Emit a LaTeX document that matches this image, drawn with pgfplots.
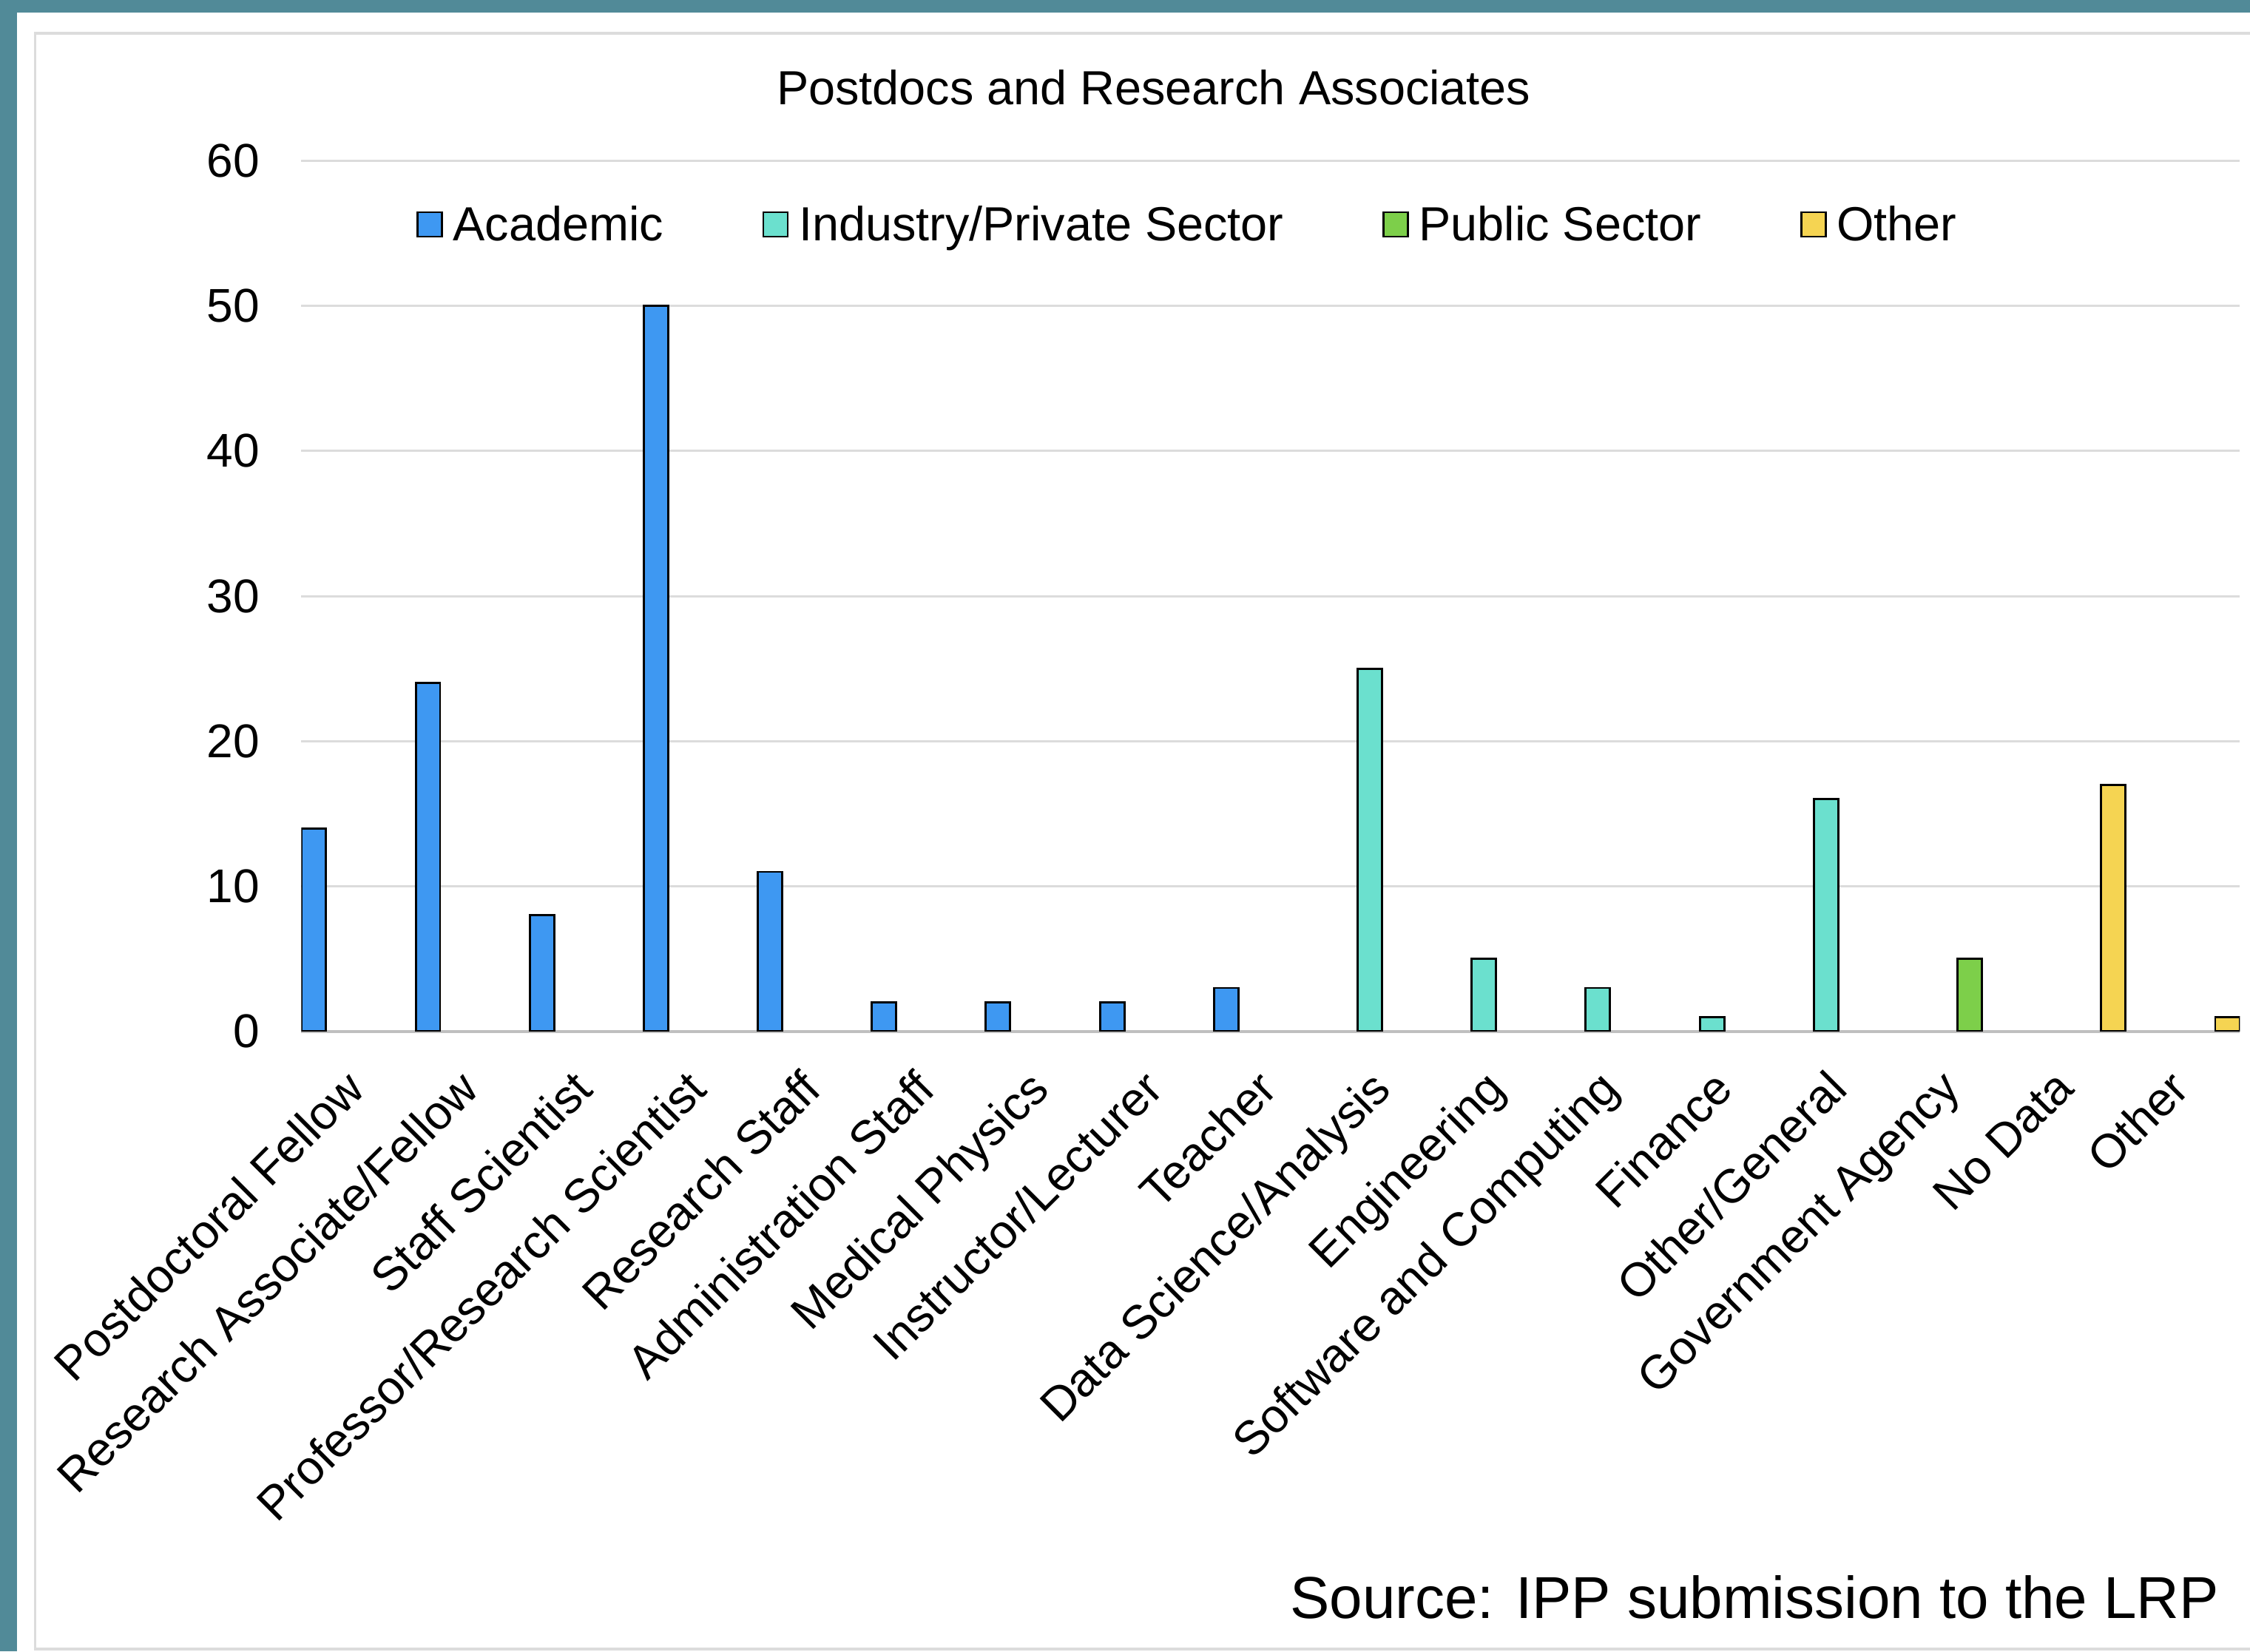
\documentclass[border=0pt]{standalone}
\usepackage{fontspec}
\setmainfont{Liberation Sans}
\usepackage{pgfplots}
\pgfplotsset{compat=1.18}
\definecolor{frameteal}{RGB}{81,138,152}
\definecolor{cAcad}{RGB}{62,152,242}
\definecolor{cInd}{RGB}{107,224,206}
\definecolor{cPub}{RGB}{125,207,74}
\definecolor{cOth}{RGB}{245,212,82}
\definecolor{gridgray}{RGB}{220,220,220}
\begin{document}
\begin{tikzpicture}
\useasboundingbox (0,0) rectangle (784pt,575.5pt);
\fill[frameteal] (0,0) rectangle (784pt,575.5pt);
\fill[white] (5.85pt,0) rectangle (790pt,571pt);
\draw[gridgray, line width=1pt] (12.25pt,0.75pt) rectangle (800pt,564pt);
\node[anchor=base, font=\fontsize{16.7}{19}\selectfont] at (402pt,539pt) {Postdocs and Research Associates};
\node[anchor=base west, font=\fontsize{20.6}{24}\selectfont] at (446pt,11.5pt) {Source: IPP submission to the LRP};
\begin{axis}[
  at={(105pt,216pt)}, anchor=south west,
  scale only axis, width=675.5pt, height=303.5pt,
  xmin=-0.5, xmax=16.5, ymin=0, ymax=60,
  ytick={0,10,...,60},
  xtick={0,...,16},
  xticklabels={Postdoctoral Fellow, Research Associate/Fellow, Staff Scientist, Professor/Research Scientist, Research Staff, Administration Staff, Medical Physics, Instructor/Lecturer, Teacher, Data Science/Analysis, Engineering, Software and Computing, Finance, Other/General, Government Agency, No Data, Other},
  xticklabel style={rotate=45, anchor=north east, font=\fontsize{16.5}{19}\selectfont, inner sep=1pt, xshift=-11.6pt, yshift=-3.8pt},
  yticklabel style={font=\fontsize{16.5}{19}\selectfont, anchor=east, xshift=-11pt},
  /pgf/number format/assume math mode=true,
  axis x line*=bottom, axis y line*=left,
  y axis line style={draw=none},
  x axis line style={draw=black!25, line width=1pt},
  tick style={draw=none}, major tick length=0pt,
  ymajorgrids, grid style={gridgray, line width=0.75pt},
  legend columns=4,
  legend style={draw=none, fill=none, at={(0.0592,0.9259)}, anchor=west, inner sep=0pt,
    font=\fontsize{16.7}{20}\selectfont,
    nodes={inner sep=1.5pt},
    /tikz/every even column/.append style={column sep=33pt}},
  legend image code/.code={\draw[#1, line width=0.6pt] (0pt,-4pt) rectangle (8.5pt,4.5pt); \path (10.5pt,0pt);},
]
\addplot[ybar, bar width=0.214, bar shift=-0.39, fill=cAcad, draw=black, line width=0.75pt] coordinates {(0,14) (1,24) (2,8) (3,50) (4,11) (5,2) (6,2) (7,2) (8,3)};
\addlegendentry{Academic}
\addplot[ybar, bar width=0.214, bar shift=-0.13, fill=cInd, draw=black, line width=0.75pt] coordinates {(9,25) (10,5) (11,3) (12,1) (13,16)};
\addlegendentry{Industry/Private Sector}
\addplot[ybar, bar width=0.214, bar shift=0.13, fill=cPub, draw=black, line width=0.75pt] coordinates {(14,5)};
\addlegendentry{Public Sector}
\addplot[ybar, bar width=0.214, bar shift=0.39, fill=cOth, draw=black, line width=0.75pt] coordinates {(15,17) (16,1)};
\addlegendentry{Other}
\end{axis}
\end{tikzpicture}
\end{document}
